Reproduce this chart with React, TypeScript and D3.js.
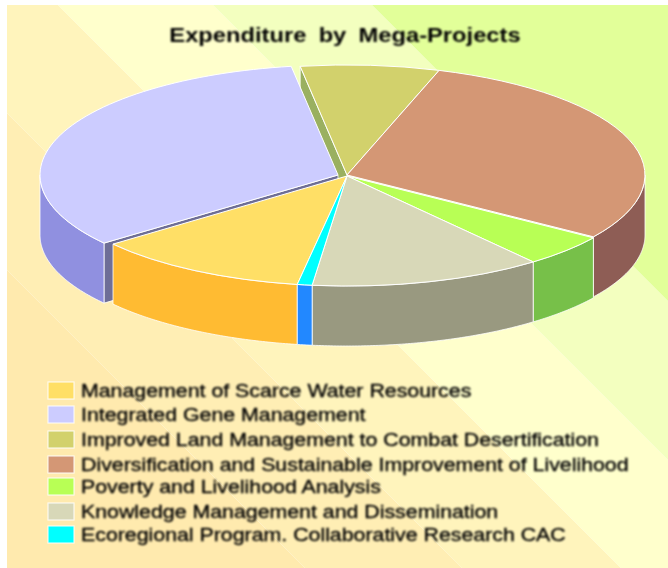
import React from 'react';
import * as d3 from 'd3';

const categories = [
  'Management of Scarce Water Resources',
  'Integrated Gene Management',
  'Improved Land Management to Combat Desertification',
  'Diversification and Sustainable Improvement of Livelihood',
  'Poverty and Livelihood Analysis',
  'Knowledge Management and Dissemination',
  'Ecoregional Program. Collaborative Research CAC',
];
const values = [11.7, 33.1, 7.5, 29.5, 4.75, 12.6, 0.8];
const topColors = ['#ffdf66', '#ccccff', '#d2d16c', '#d49775', '#b8ff55', '#d8d8b8', '#00ffff'];
const wallColors = ['#ffbb33', '#9090e0', '#9ab060', '#8e5d55', '#77c04a', '#999980', '#2288ff'];
const edgeColors = ['#ffbb33', '#6e6e96', '#9ab060', '#8e5d55', '#77c04a', '#999980', '#2288ff'];
const offsets: [number, number][] = [[0, 0], [-9, -1], [0, -1], [0, -1], [0, 0], [0, 0], [0, 0]];
const bandBreaks = [-263, -106, 53, 208, 367];
const bandColors = ['#ffeaae', '#ffeeb4', '#fff4bc', '#ffffcc', '#f3ffbf', '#e2ff99'];

const W = 668, H = 568;
const cx = 347, cy = 176, rx = 298, ry = 110, depth = 60;
const startDeg = 189.6;

export default function App() {
  const pie = d3.pie<number>().sort(null).startAngle(startDeg * Math.PI / 180).endAngle((startDeg + 360) * Math.PI / 180);
  const slices = pie(values);
  const arc = d3.arc<any>().innerRadius(0).outerRadius(1);
  const px = (a: number, i: number) => cx + offsets[i][0] + rx * Math.sin(a);
  const py = (a: number, i: number) => cy + offsets[i][1] - ry * Math.cos(a);

  const build = (from: number, to: number, i: number) => {
    const pts = [...d3.range(from, to, 0.01), to];
    return d3.area<number>().x(a => px(a, i)).y0(a => py(a, i)).y1(a => py(a, i) + depth)(pts);
  };
  const wall = (s: d3.PieArcDatum<number>, i: number) => {
    const lo = Math.PI / 2, hi = 1.5 * Math.PI, t = 2 * Math.PI;
    for (const shift of [0, -t]) {
      const from = Math.max(s.startAngle + shift, lo), to = Math.min(s.endAngle + shift, hi);
      if (to > from) return build(from, to, i);
    }
    return null;
  };
  const radial = (a: number, i: number) => {
    const ox = cx + offsets[i][0], oy = cy + offsets[i][1];
    return d3.line()([[ox, oy], [px(a, i), py(a, i)], [px(a, i), py(a, i) + depth], [ox, oy + depth]]) + 'Z';
  };

  const bandPolys = bandColors.map((c, i) => {
    const a = i === 0 ? -1000 : bandBreaks[i - 1];
    const b = i === bandBreaks.length ? 1000 : bandBreaks[i];
    return {
      c,
      d: d3.line()([[a - 100, -100], [b - 100, -100], [b + 700, 700], [a + 700, 700]]) + 'Z',
    };
  });

  const rowY = [391, 415, 440, 465, 487, 512, 535];

  return (
    <svg width={W} height={H} style={{ position: 'absolute', left: 0, top: 0 }}>
      <defs>
        <clipPath id="bg"><rect x={7} y={5} width={W - 7} height={H - 5} /></clipPath>
        <filter id="soft" x="-5%" y="-30%" width="110%" height="160%"><feGaussianBlur stdDeviation="0.9" /></filter>
        <filter id="edge" x="-2%" y="-2%" width="104%" height="104%"><feGaussianBlur stdDeviation="0.5" /></filter>
      </defs>
      <rect width={W} height={H} fill="#fff" />
      <g clipPath="url(#bg)">
        {bandPolys.map((b, i) => <path key={i} d={b.d} fill={b.c} />)}
      </g>
      <g filter="url(#soft)">
        <text transform="translate(345,42) scale(1.13,1)" textAnchor="middle" fontFamily="Liberation Sans" fontWeight="bold" fontSize={21} wordSpacing={5} fill="#000">
          Expenditure by Mega-Projects
        </text>
      </g>

      <g filter="url(#edge)">
        <path d={radial(slices[2].startAngle, 2)} fill={edgeColors[2]} stroke="#fff" strokeWidth={0.8} />
        <path d={radial(slices[1].startAngle, 1)} fill={edgeColors[1]} stroke="#fff" strokeWidth={0.8} />
        {slices.map((s, i) => {
          const d = wall(s, i);
          return d ? <path key={i} d={d} fill={wallColors[i]} stroke="#fff" strokeWidth={0.8} /> : null;
        })}
        {slices.map((s, i) => (
          <path
            key={i}
            d={arc(s) as string}
            transform={`translate(${cx + offsets[i][0]},${cy + offsets[i][1]}) scale(${rx},${ry})`}
            fill={topColors[i]}
            stroke="#fff"
            strokeWidth={1}
            vectorEffect="non-scaling-stroke"
          />
        ))}
      </g>

      {categories.map((c, i) => (
        <g key={c}>
          <rect x={48} y={rowY[i] - 9} width={26} height={17} fill={topColors[i]} stroke="#fff" strokeOpacity={0.8} strokeWidth={1.2} filter="url(#edge)" />
          <g filter="url(#soft)">
            <text transform={`translate(81,${rowY[i] + 6}) scale(1.212,1)`} fontFamily="Liberation Sans" fontSize={17.6} fill="#000" stroke="#000" strokeWidth={0.35}>{c}</text>
          </g>
        </g>
      ))}
    </svg>
  );
}
